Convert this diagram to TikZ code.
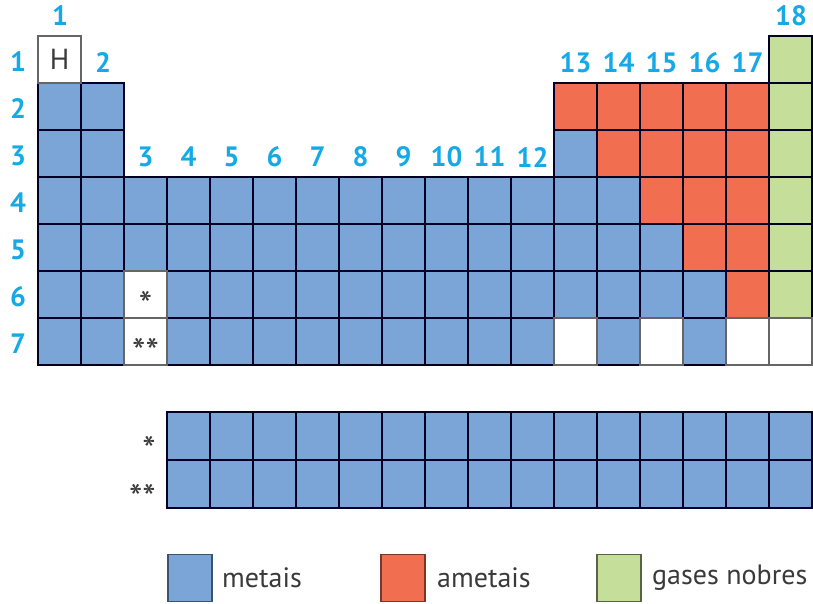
\documentclass[tikz,border=0pt]{standalone}
\usepackage{fontspec}
\setmainfont{PT Sans}
\definecolor{metal}{HTML}{7BA4D7}
\definecolor{ametal}{HTML}{F26E50}
\definecolor{nobre}{HTML}{C5DE9A}
\definecolor{lab}{HTML}{15AAE6}
\definecolor{txt}{HTML}{3A3A3A}
\tikzset{
  cell/.style={draw=black!85!blue, line width=1.1pt, minimum width=43pt, minimum height=47pt, inner sep=0pt, outer sep=0pt},
  lcell/.style={cell, fill=metal, minimum height=48pt},
  wcell/.style={cell, draw=black!60, fill=white},
  ast/.style={text=txt, font=\fontsize{38}{38}\selectfont, inner sep=0pt},
  grp/.style={text=lab, font=\fontsize{28}{28}\selectfont\bfseries, inner sep=0pt},
  legbox/.style={line width=1.6pt, minimum width=44pt, minimum height=47pt, inner sep=0pt},
  legtxt/.style={text=txt, font=\fontsize{28}{28}\selectfont, anchor=west, inner sep=0pt},
}
\begin{document}
\begin{tikzpicture}[x=1pt,y=-1pt]
\useasboundingbox (0,0) rectangle (813,603);
% blue cells
\foreach \r/\cols in {2/{1,2},3/{1,2,13},4/{1,...,14},5/{1,...,15},6/{1,2,4,5,...,16},7/{1,2,4,5,...,12,14,16}}{
  \foreach \c in \cols {
    \node[cell, fill=metal] (c-\r-\c) at ({38+(\c-0.5)*43},{36+(\r-0.5)*47}) {};
  }
}
% red cells
\foreach \r/\cols in {2/{13,...,17},3/{14,...,17},4/{15,16,17},5/{16,17},6/{17}}{
  \foreach \c in \cols {
    \node[cell, fill=ametal] (c-\r-\c) at ({38+(\c-0.5)*43},{36+(\r-0.5)*47}) {};
  }
}
% green cells
\foreach \r in {1,...,6}{
  \node[cell, fill=nobre] (c-\r-18) at ({38+17.5*43},{36+(\r-0.5)*47}) {};
}
% white cells
\foreach \c in {13,15,17,18}{
  \node[wcell] (c-7-\c) at ({38+(\c-0.5)*43},{36+6.5*47}) {};
}
\node[wcell, text=txt, font=\fontsize{29}{29}\selectfont] (c-1-1) at ({38+0.5*43},{36+0.5*47}) {H};
\node[wcell] (c-6-3) at ({38+2.5*43},{36+5.5*47}) {};
\node[wcell] (c-7-3) at ({38+2.5*43},{36+6.5*47}) {};
\node[ast] (a1) at ({38+2.5*43},{36+5.5*47+10}) {*};
\node[ast] (a2) at ({38+2.5*43},{36+6.5*47+10}) {**};
% lanthanides / actinides
\foreach \c in {4,...,18}{
  \node[lcell] (l-1-\c) at ({38+(\c-0.5)*43},436) {};
  \node[lcell] (l-2-\c) at ({38+(\c-0.5)*43},484) {};
}
\node[ast, anchor=east] (sl1) at (156,450) {*};
\node[ast, anchor=east] (sl2) at (156,498) {**};
% group labels
\node[grp] (g1) at (60,16) {1};
\node[grp] (g18) at (791,16) {18};
\node[grp] (g2) at (103,63) {2};
\foreach \c in {13,...,17}{
  \node[grp] (g\c) at ({38+(\c-0.5)*43},63) {\c};
}
\foreach \c in {3,...,12}{
  \node[grp] (g\c) at ({38+(\c-0.5)*43},157) {\c};
}
% period labels
\foreach \r in {1,...,7}{
  \node[grp] (p\r) at (18,{36+(\r-0.5)*47+2}) {\r};
}
% legend
\node[legbox, fill=metal, draw=metal!50!black] (lm) at (190,578) {};
\node[legtxt] (tm) at (222,578) {metais};
\node[legbox, fill=ametal, draw=ametal!50!black] (la) at (403,578) {};
\node[legtxt] (ta) at (437,578) {ametais};
\node[legbox, fill=nobre, draw=nobre!45!black] (ln) at (619,578) {};
\node[legtxt] (tn) at (652,578) {gases nobres};
\end{tikzpicture}
\end{document}
